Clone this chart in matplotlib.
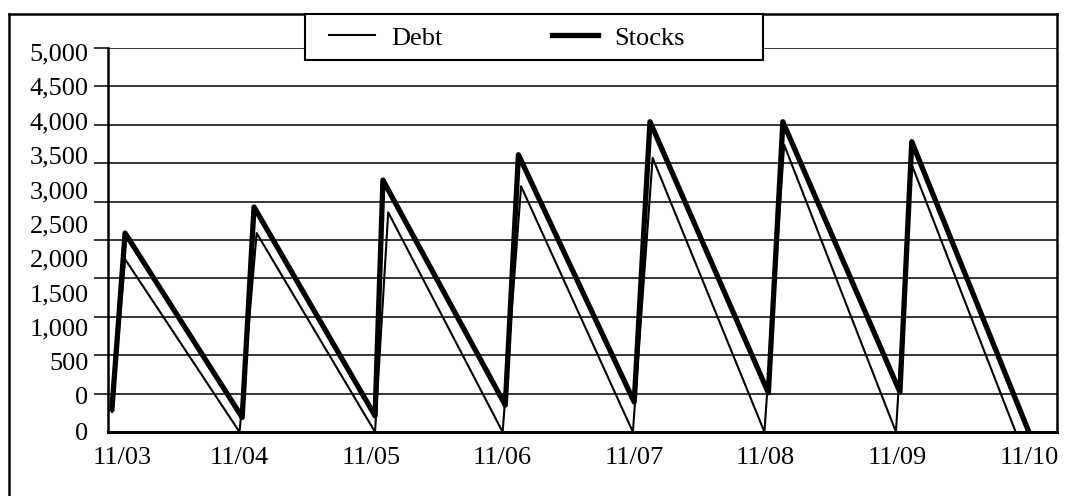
import numpy as np
import matplotlib
matplotlib.use('Agg')
import matplotlib.pyplot as plt
from matplotlib.lines import Line2D
from matplotlib.patches import Rectangle
from matplotlib.transforms import ScaledTranslation

plt.rcParams['font.family'] = 'Liberation Serif'
plt.rcParams['font.size'] = 19

# days since 11/03 and amounts
debt_x = [0.03, 0.13, 1.0, 1.13, 2.03, 2.13, 3.0, 3.14, 3.99, 4.14, 4.99, 5.14, 5.99, 6.11, 6.9]
debt_y = [260, 2250, 0, 2590, 0, 2860, 0, 3200, 0, 3570, 0, 3740, 0, 3480, 0]
stocks_x = [0.03, 0.13, 1.02, 1.11, 2.03, 2.09, 3.02, 3.12, 4.0, 4.12, 5.02, 5.13, 6.02, 6.11, 7.0]
stocks_y = [300, 2590, 190, 2930, 210, 3280, 350, 3610, 390, 4040, 510, 4040, 520, 3780, 0]

date_labels = ['11/03', '11/04', '11/05', '11/06', '11/07', '11/08', '11/09', '11/10']
y_labels = ['5,000', '4,500', '4,000', '3,500', '3,000', '2,500', '2,000',
            '1,500', '1,000', '500', '0', '0']

fig = plt.figure(figsize=(10.8, 4.96), dpi=100)
W, H = 1080, 496
ax = fig.add_axes([108 / W, 1 - 432 / H, (1057 - 108) / W, (432 - 48) / H])

ax.plot(debt_x, debt_y, color='black', lw=1.5, label='Debt', zorder=3)
ax.plot(stocks_x, stocks_y, color='black', lw=3.8, label='Stocks', zorder=4)

ax.set_xlim(0.014, 7.214)
ax.set_ylim(0, 5000)

# gridlines on minor ticks, labels on major ticks (labels drift from grid as in original)
ax.set_yticks(np.arange(500, 5001, 500), minor=True)
ax.yaxis.grid(True, which='minor', color='black', lw=1.1)
ax.tick_params(axis='y', which='minor', length=10, width=1.1, direction='out')
ax.set_yticks(list(np.linspace(4948, 469, 11)) + [0])
ax.set_yticklabels(y_labels)
ax.tick_params(axis='y', which='major', length=0, pad=14)

ax.set_xticks(np.arange(len(date_labels)))
ax.set_xticklabels(date_labels)
ax.tick_params(axis='x', length=0, pad=11)
lab0 = ax.get_xticklabels()[0]
lab0.set_transform(lab0.get_transform() + ScaledTranslation(0.14, 0, fig.dpi_scale_trans))

ax.spines['top'].set_visible(False)
ax.spines['right'].set_visible(False)
ax.spines['left'].set_linewidth(1.8)
ax.spines['bottom'].set_linewidth(2.2)

# outer frame (left + top, right edge shared with the plot)
fx = lambda px: px / W
fy = lambda py: 1 - py / H
for xs, ys in [((9, 9), (14, 500)), ((9, 1057), (14, 14)), ((1057, 1057), (14, 432))]:
    fig.add_artist(Line2D([fx(xs[0]), fx(xs[1])], [fy(ys[0]), fy(ys[1])],
                          color='black', lw=1.8, transform=fig.transFigure))

# legend box
fig.add_artist(Rectangle((fx(305), fy(60)), fx(763) - fx(305), fy(14) - fy(60),
                         facecolor='white', edgecolor='black', lw=1.5,
                         transform=fig.transFigure, zorder=5))
fig.legend(loc='center left', bbox_to_anchor=(fx(308), fy(38)), ncol=2, frameon=False,
           handlelength=1.75, handletextpad=0.6, columnspacing=4.15, borderpad=0.3)

plt.savefig('out.png', dpi=100)
